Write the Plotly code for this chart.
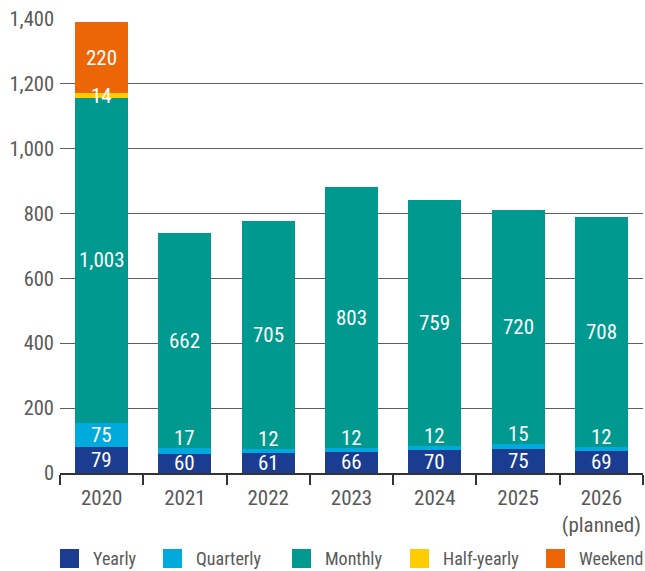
import plotly.graph_objects as go

# Categories and stacked series (bottom to top)
years = ["2020", "2021", "2022", "2023", "2024", "2025", "2026<br>(planned)"]
yearly = [79, 60, 61, 66, 70, 75, 69]
quarterly = [75, 17, 12, 12, 12, 15, 12]
monthly = [1003, 662, 705, 803, 759, 720, 708]
half_yearly = [14, None, None, None, None, None, None]
weekend = [220, None, None, None, None, None, None]

series_names = ["Yearly", "Quarterly", "Monthly", "Half-yearly", "Weekend"]
series_values = [yearly, quarterly, monthly, half_yearly, weekend]
series_colors = ["#1b3d91", "#00aadc", "#00998f", "#ffcc00", "#ec6608"]

y_ticks = [0, 200, 400, 600, 800, 1000, 1200, 1400]

FONT = "Roboto Condensed, Roboto, sans-serif"
TEXT_GRAY = "#595959"
LABEL_SIZE = 21

# Plot-area geometry in pixels (used for the hand-drawn legend)
W, H = 645, 571
M_L, M_R, M_T, M_B = 60, 2, 19, 98
PW, PH = W - M_L - M_R, H - M_T - M_B


def px_x(p):
    return (p - M_L) / PW


def px_y(p):
    return (H - M_B - p) / PH


fig = go.Figure()
for name, vals, col in zip(series_names, series_values, series_colors):
    fig.add_trace(go.Bar(
        x=years, y=vals, name=name, marker=dict(color=col, line=dict(width=0)),
        showlegend=False, hoverinfo="x+y+name",
    ))

# Value labels inside the segments (x given as category index)
annotations = []
base = [0] * len(years)
for name, vals in zip(series_names, series_values):
    for i, v in enumerate(vals):
        if v is None or v == 0:
            continue
        if name == "Quarterly" and v < 30:
            # thin segment: label sits just above it
            annotations.append(dict(
                x=i, y=base[i] + v, xref="x", yref="y",
                text=f"{v:,}", showarrow=False, yanchor="bottom", yshift=-4,
                font=dict(family=FONT, size=LABEL_SIZE, color="white"),
            ))
        else:
            annotations.append(dict(
                x=i, y=base[i] + v / 2, xref="x", yref="y",
                text=f"{v:,}", showarrow=False, yanchor="middle",
                font=dict(family=FONT, size=LABEL_SIZE, color="white"),
            ))
        base[i] += v

# Legend drawn as swatches and labels below the axis
shapes = []
swatch_left = [60, 163, 292, 410, 546]
for name, col, sx in zip(series_names, series_colors, swatch_left):
    shapes.append(dict(
        type="rect", xref="paper", yref="paper",
        x0=px_x(sx), x1=px_x(sx + 19), y0=px_y(568), y1=px_y(549),
        fillcolor=col, line=dict(width=0),
    ))
    annotations.append(dict(
        x=px_x(sx + 31), y=px_y(558.5), xref="paper", yref="paper",
        text=name, showarrow=False, xanchor="left", yanchor="middle",
        font=dict(family=FONT, size=18, color=TEXT_GRAY),
    ))

fig.update_layout(
    width=W, height=H,
    margin=dict(l=M_L, r=M_R, t=M_T, b=M_B, pad=0, autoexpand=False),
    barmode="stack", bargap=0.364,
    plot_bgcolor="white", paper_bgcolor="white",
    font=dict(family=FONT, size=20, color=TEXT_GRAY),
    annotations=annotations, shapes=shapes,
    showlegend=False,
)
fig.update_xaxes(
    type="category", range=[-0.5, len(years) - 0.5],
    showline=True, linecolor="#333333", linewidth=1.5,
    ticks="outside", tickson="boundaries", ticklen=10, tickwidth=1.5, tickcolor="#333333",
    ticklabelstandoff=5, tickangle=0, automargin=False,
    showgrid=False, tickfont=dict(family=FONT, size=21, color=TEXT_GRAY),
)
fig.update_yaxes(
    range=[0, 1400], tickvals=y_ticks, tickformat=",",
    showgrid=True, gridcolor="#5e5e5e", gridwidth=1.4,
    zeroline=False, showline=False, ticks="", automargin=False,
    ticklabelstandoff=5,
    tickfont=dict(family=FONT, size=20.5, color=TEXT_GRAY),
)

fig.write_html("out.html")
